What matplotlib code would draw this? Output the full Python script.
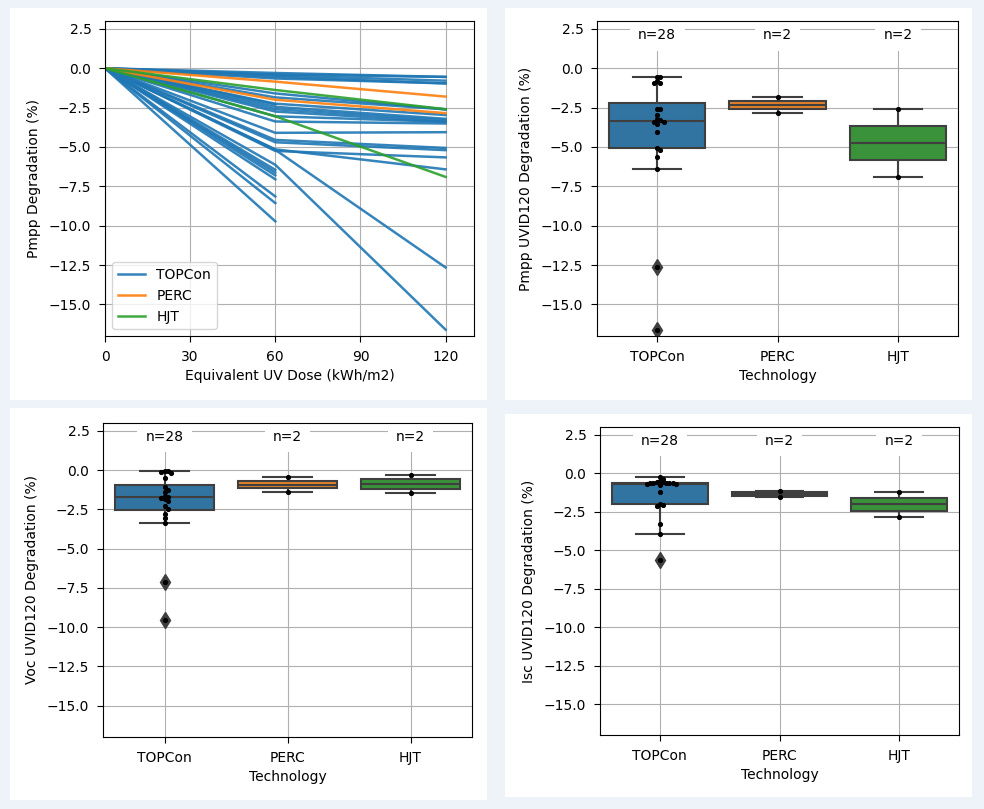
import matplotlib
matplotlib.use('Agg')
import matplotlib.pyplot as plt
from matplotlib.patches import Rectangle
import numpy as np

nan = np.nan

techs = ['TOPCon', 'PERC', 'HJT']
line_colors = ['#1f77b4', '#ff7f0e', '#2ca02c']
box_colors = ['#3274a1', '#e1812c', '#3a923a']
gray = '#3f3f3f'

dose = [0, 60, 120]

# Pmpp degradation (%) of every module after 60 and 120 kWh/m2 (nan = not tested)
topcon_pmpp_60 = [-0.30, -0.40, -0.45, -0.55, -0.65, -1.60, -1.85, -2.25, -2.45, -2.60,
                  -2.75, -3.05, -3.38, -4.10, -4.55, -4.70, -5.25, -5.15, -5.18, -6.13,
                  -2.30, -6.45, -6.62, -6.80, -7.05, -8.14, -8.56, -9.72]
topcon_pmpp_120 = [-0.55, -0.55, -0.79, -0.96, -0.96, -2.61, -2.61, -2.97, -3.21, -3.30,
                   -3.40, -3.40, -3.51, -4.06, -5.06, -5.20, -5.66, -6.42, -12.65, -16.60,
                   nan, nan, nan, nan, nan, nan, nan, nan]
perc_pmpp_60 = [-0.85, -2.00]
perc_pmpp_120 = [-1.80, -2.85]
hjt_pmpp_60 = [-1.38, -3.05]
hjt_pmpp_120 = [-2.60, -6.90]

# Voc and Isc degradation (%) after UVID120
topcon_voc_120 = [-0.04, -0.05, -0.10, -0.20, -0.50, -1.10, -1.27, -1.42, -1.65, -1.72,
                  -1.76, -1.86, -2.00, -2.30, -2.46, -2.82, -3.07, -3.40, -7.15, -9.55,
                  nan, nan, nan, nan, nan, nan, nan, nan]
perc_voc_120 = [-0.47, -1.38]
hjt_voc_120 = [-0.30, -1.48]

topcon_isc_120 = [-0.24, -0.35, -0.50, -0.58, -0.60, -0.62, -0.63, -0.64, -0.65, -0.66,
                  -0.68, -0.70, -0.75, -1.23, -2.00, -2.06, -2.10, -3.30, -3.98, -5.63,
                  nan, nan, nan, nan, nan, nan, nan, nan]
perc_isc_120 = [-1.13, -1.56]
hjt_isc_120 = [-1.19, -2.84]

W, H = 984, 809
fig = plt.figure(figsize=(W / 100, H / 100), dpi=100, facecolor='#eef2f9')


def card(x0, y0, x1, y1):
    fig.patches.append(Rectangle((x0 / W, 1 - y1 / H), (x1 - x0) / W, (y1 - y0) / H,
                                 transform=fig.transFigure, facecolor='white',
                                 edgecolor='none', zorder=-5))


def axes_px(x0, y0, x1, y1):
    ax = fig.add_axes([x0 / W, 1 - y1 / H, (x1 - x0) / W, (y1 - y0) / H])
    ax.tick_params(length=4.3, pad=5.5)
    return ax


card(10, 8, 487, 400)
card(505, 8, 972, 400)
card(10, 408, 487, 800)
card(505, 414, 972, 797)

# ---- panel 1: degradation vs dose
ax1 = axes_px(105, 21, 474, 336)
groups_60 = [topcon_pmpp_60, perc_pmpp_60, hjt_pmpp_60]
groups_120 = [topcon_pmpp_120, perc_pmpp_120, hjt_pmpp_120]
handles = []
for t, c, g60, g120 in zip(techs, line_colors, groups_60, groups_120):
    for i in range(len(g60)):
        y = [0, g60[i], g120[i]]
        ln, = ax1.plot(dose, y, color=c, linewidth=1.8, alpha=0.9)
    handles.append(ln)
ax1.legend(handles, techs, loc='lower left')
ax1.set_xlim(0, 130)
ax1.set_ylim(-17, 3)
ax1.set_xticks([0, 30, 60, 90, 120])
ax1.set_xlabel('Equivalent UV Dose (kWh/m2)')
ax1.set_ylabel('Pmpp Degradation (%)', labelpad=6)
ax1.grid(True)


def swarm_x(vals, xscale, yscale, d):
    # simple beeswarm: push dots sideways until they don't overlap
    placed = []
    xs = []
    for v in vals:
        py = v * yscale
        k = 0
        while True:
            step = (k + 1) // 2 * (1 if k % 2 else -1)
            px = step * d
            if all((px - qx) ** 2 + (py - qy) ** 2 >= d * d for qx, qy in placed):
                break
            k += 1
        placed.append((px, py))
        xs.append(px / xscale)
    return xs


def box_panel(ax, groups, ylabel):
    clean = [[v for v in g if not np.isnan(v)] for g in groups]
    bp = ax.boxplot(clean, positions=[0, 1, 2], widths=0.8, patch_artist=True,
                    medianprops=dict(color=gray, linewidth=1.5),
                    whiskerprops=dict(color=gray, linewidth=1.5),
                    capprops=dict(color=gray, linewidth=1.5),
                    flierprops=dict(marker='d', markerfacecolor=gray,
                                    markeredgecolor=gray, markersize=8))
    for patch, c in zip(bp['boxes'], box_colors):
        patch.set_facecolor(c)
        patch.set_edgecolor(gray)
        patch.set_linewidth(1.5)
    for i, vals in enumerate(clean):
        offs = swarm_x(vals, 120.0, 15.7, 3.2)
        ax.plot([i + o for o in offs], vals, 'o', color='black', markersize=2.7,
                linestyle='none', zorder=4)
        ax.text(i, 2.1, 'n=%d' % len(groups[i]), ha='center', va='center', fontsize=10,
                bbox=dict(boxstyle='square', pad=0.6, facecolor='white', edgecolor='none'),
                zorder=2.2)
    ax.set_xlim(-0.5, 2.5)
    ax.set_ylim(-17, 3)
    ax.set_xticks([0, 1, 2])
    ax.set_xticklabels(techs)
    ax.set_xlabel('Technology')
    ax.set_ylabel(ylabel, labelpad=6)
    ax.grid(True)


ax2 = axes_px(597, 21, 958, 336)
box_panel(ax2, [topcon_pmpp_120, perc_pmpp_120, hjt_pmpp_120], 'Pmpp UVID120 Degradation (%)')

ax3 = axes_px(103, 423, 472, 737)
box_panel(ax3, [topcon_voc_120, perc_voc_120, hjt_voc_120], 'Voc UVID120 Degradation (%)')

ax4 = axes_px(600, 427, 959, 735)
box_panel(ax4, [topcon_isc_120, perc_isc_120, hjt_isc_120], 'Isc UVID120 Degradation (%)')

fig.savefig('out.png', dpi=100, facecolor=fig.get_facecolor())
